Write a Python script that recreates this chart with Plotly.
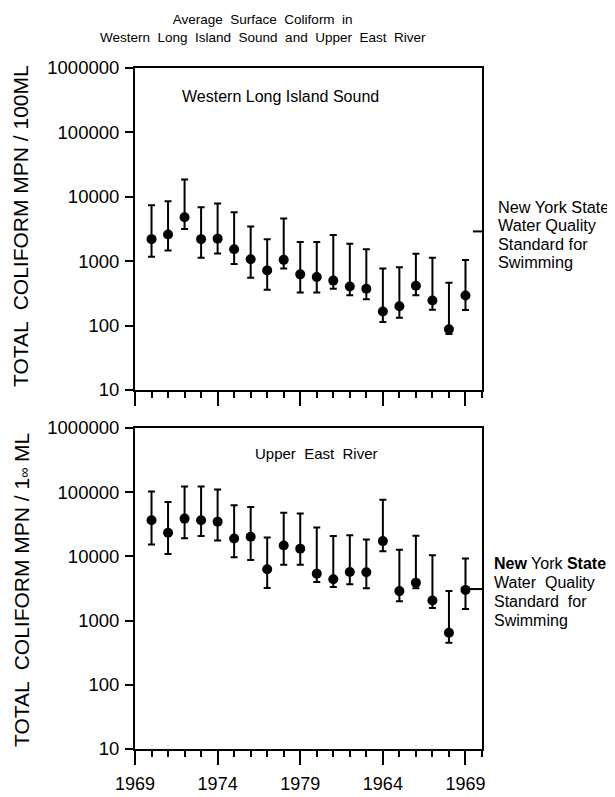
import plotly.graph_objects as go

W, H = 615, 797
PAGE_OFFSET = 8  # default body margin of the html page

years = list(range(1970, 1990))

# Western Long Island Sound (top panel)
wlis_mean = [2200, 2600, 4800, 2200, 2240, 1530, 1070, 720, 1050, 625,
             567, 500, 405, 373, 166, 200, 415, 245, 88, 293]
wlis_upper = [7400, 8500, 18600, 6900, 7900, 5740, 3460, 2200, 4600, 1990,
              1990, 2560, 1870, 1530, 770, 805, 1300, 1130, 463, 1040]
wlis_lower = [1170, 1470, 3150, 1130, 1320, 905, 555, 360, 770, 326,
              326, 373, 296, 256, 114, 132, 296, 176, 74, 174]

# Upper East River (bottom panel)
uer_mean = [36500, 23300, 38800, 36500, 34800, 19000, 20200, 6290, 14800, 13200,
            5390, 4400, 5710, 5650, 17300, 2880, 3900, 2060, 645, 3010]
uer_upper = [103000, 70500, 123000, 123000, 110000, 62400, 59000, 19700, 48000, 46400,
             28200, 20700, 21400, 18300, 76500, 12700, 21000, 10400, 2880, 9300]
uer_lower = [15300, 10900, 19200, 20700, 17700, 9660, 8760, 3230, 7430, 7430,
             4000, 3340, 3680, 3190, 12000, 2000, 3190, 1570, 450, 1520]

standard_top = 2900
standard_bottom = 3100

x_tickvals = [1969, 1974, 1979, 1984, 1989]
x_ticktext = ["1969", "1974", "1979", "1964", "1969"]
y_tickvals = [10, 100, 1000, 10000, 100000, 1000000]
y_ticktext = ["10", "100", "1000", "10000", "100000", "1000000"]

std_lines_top = ["New York State", "Water Quality", "Standard for", "Swimming"]
std_lines_bottom = ["<b>New</b> York <b>State</b>", "Water  Quality", "Standard  for", "Swimming"]

FONT = "Liberation Sans, Arial, sans-serif"

def px_x(p):
    return (p - PAGE_OFFSET) / W

def px_y(p):
    return 1 - (p - PAGE_OFFSET) / H

fig = go.Figure()

def add_panel(mean, up, lo, xa, ya):
    fig.add_trace(go.Scatter(
        x=years, y=mean, mode="markers",
        marker=dict(color="black", size=10),
        error_y=dict(type="data", symmetric=False,
                     array=[u - m for u, m in zip(up, mean)],
                     arrayminus=[m - l for m, l in zip(mean, lo)],
                     color="black", thickness=2, width=3.5),
        xaxis=xa, yaxis=ya, showlegend=False, cliponaxis=False))

add_panel(wlis_mean, wlis_upper, wlis_lower, "x", "y")
add_panel(uer_mean, uer_upper, uer_lower, "x2", "y2")

fig.add_trace(go.Scatter(x=[1989.45, 1990], y=[standard_top, standard_top], mode="lines",
                         line=dict(color="black", width=2), xaxis="x", yaxis="y",
                         showlegend=False, cliponaxis=False))
fig.add_trace(go.Scatter(x=[1989.1, 1990], y=[standard_bottom, standard_bottom], mode="lines",
                         line=dict(color="black", width=2), xaxis="x2", yaxis="y2",
                         showlegend=False, cliponaxis=False))

xdom = [px_x(135), px_x(482)]
xcommon = dict(range=[1969, 1990], domain=xdom, showline=True, linecolor="black",
               linewidth=2, mirror=True, ticks="outside", tickvals=x_tickvals,
               ticklen=14, tickwidth=2, tickcolor="black", showgrid=False, zeroline=False,
               automargin=False, ticklabelstandoff=3,
               minor=dict(dtick=1, tick0=1969, ticks="outside", ticklen=6, tickwidth=2,
                          tickcolor="black", showgrid=False),
               tickfont=dict(family=FONT, size=18, color="black"))
ycommon = dict(type="log", range=[1, 6], showline=True, linecolor="black", linewidth=2,
               mirror=True, ticks="outside", ticklen=8, tickwidth=2, tickcolor="black",
               tickvals=y_tickvals, ticktext=y_ticktext, showgrid=False, zeroline=False,
               automargin=False, ticklabelstandoff=2,
               tickfont=dict(family=FONT, size=18.5, color="black"))

fig.update_layout(
    width=W, height=H, margin=dict(l=0, r=0, t=0, b=0, autoexpand=False),
    paper_bgcolor="white", plot_bgcolor="white", showlegend=False,
    xaxis=dict(xcommon, anchor="y", showticklabels=False),
    yaxis=dict(ycommon, domain=[px_y(390), px_y(68)], anchor="x"),
    xaxis2=dict(xcommon, anchor="y2", ticktext=x_ticktext, showticklabels=True),
    yaxis2=dict(ycommon, domain=[px_y(749), px_y(428)], anchor="x2"),
)

ann = []
ann.append(dict(text="Average  Surface  Coliform  in<br>Western  Long  Island  Sound  and  Upper  East  River",
                x=px_x(263), y=px_y(28.5), xref="paper", yref="paper", showarrow=False,
                xanchor="center", yanchor="middle", font=dict(family=FONT, size=13.5, color="black")))
ann.append(dict(text="Western Long Island Sound", x=px_x(180), y=px_y(97), xref="paper", yref="paper",
                showarrow=False, xanchor="left", yanchor="middle",
                font=dict(family=FONT, size=16, color="black")))
ann.append(dict(text="Upper  East  River", x=px_x(316), y=px_y(453), xref="paper", yref="paper",
                showarrow=False, xanchor="center", yanchor="middle",
                font=dict(family=FONT, size=15, color="black")))
for i, line in enumerate(std_lines_top):
    ann.append(dict(text=line, x=px_x(496), y=px_y(207 + 18.3 * i), xref="paper", yref="paper",
                    showarrow=False, xanchor="left", yanchor="middle", align="left",
                    font=dict(family=FONT, size=16.3, color="black")))
for i, line in enumerate(std_lines_bottom):
    ann.append(dict(text=line, x=px_x(492), y=px_y(563 + 19 * i), xref="paper", yref="paper",
                    showarrow=False, xanchor="left", yanchor="middle", align="left",
                    font=dict(family=FONT, size=16, color="black")))
ann.append(dict(text="TOTAL  COLIFORM MPN / 100ML", x=px_x(21), y=px_y(226), xref="paper", yref="paper",
                showarrow=False, textangle=-90, xanchor="center", yanchor="middle",
                font=dict(family=FONT, size=21, color="black")))
ann.append(dict(text="TOTAL  COLIFORM MPN / 1<span style='font-size:14px'>\u221e</span> ML",
                x=px_x(21), y=px_y(590), xref="paper", yref="paper",
                showarrow=False, textangle=-90, xanchor="center", yanchor="middle",
                font=dict(family=FONT, size=21, color="black")))
fig.update_layout(annotations=ann)

fig.write_html("out.html")
